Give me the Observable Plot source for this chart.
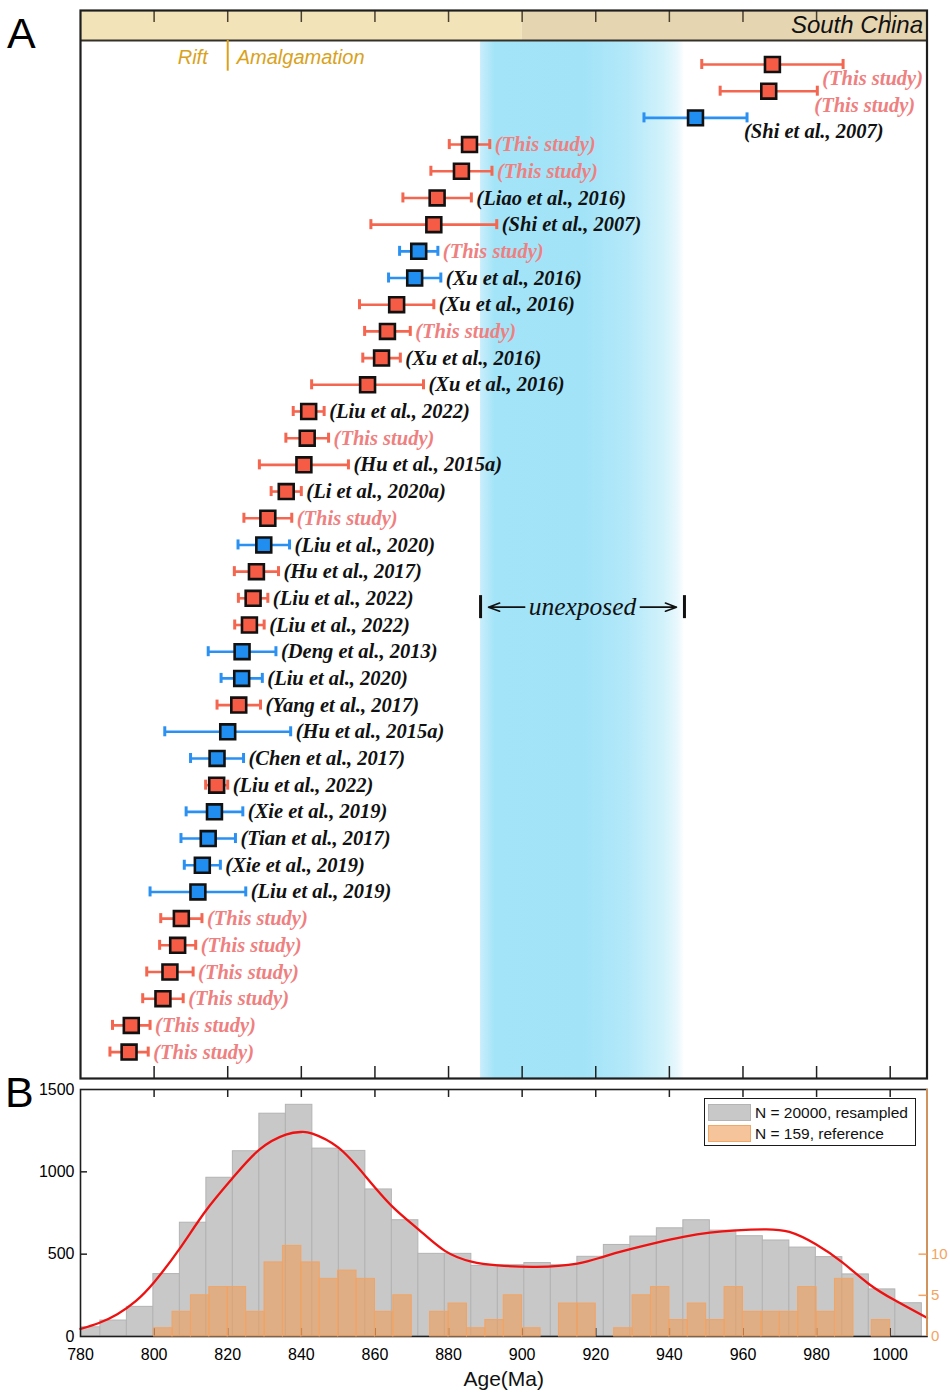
<!DOCTYPE html>
<html>
<head>
<meta charset="utf-8">
<script src="https://cdn.jsdelivr.net/npm/d3@7"></script>
<script src="https://cdn.jsdelivr.net/npm/@observablehq/plot@0.6"></script>
<style>
  body { margin: 0; background: #fff; }
  #wrap { position: relative; width: 950px; height: 1394px; overflow: hidden;
          font-family: "Liberation Sans", Arial, Helvetica, sans-serif; }
  #wrap svg { position: absolute; left: 0; }
  .tag { position: absolute; font-size: 43px; line-height: 43px; color: #000; }
  .legend { position: absolute; left: 704px; top: 1098px; width: 212px; height: 48px;
            box-sizing: border-box; border: 1.6px solid #1a1a1a; background: #fff;
            font-size: 15.5px; color: #111; padding-top: 3px; }
  .legend .item { display: flex; align-items: center; height: 21px; }
  .legend .sw { display: inline-block; width: 43px; height: 17px; margin: 0 4px 0 3px; box-sizing: border-box; }
  .legend .grey { background: #c8c8c8; border: 1px solid #b4b4b4; }
  .legend .orange { background: #f5c49b; border: 1px solid #f0a868; }
</style>
</head>
<body>
<div id="wrap">
  <div class="tag" style="left:7px; top:12px;">A</div>
  <div class="tag" style="left:5px; top:1071px;">B</div>
  <div class="legend">
    <div class="item"><span class="sw grey"></span>N = 20000, resampled</div>
    <div class="item"><span class="sw orange"></span>N = 159, reference</div>
  </div>
</div>
<script>
// ---------- Panel A: sample ages (Ma) with 2σ uncertainty, listed top to bottom ----------
const ages = [968.0, 967.0, 947.1, 885.7, 883.5, 876.9, 876.0, 871.9, 870.8, 865.9,
              863.4, 861.8, 858.0, 842.0, 841.6, 840.7, 835.9, 830.9, 829.8, 827.8,
              826.9, 825.9, 823.9, 823.8, 823.0, 820.0, 817.1, 817.0, 816.4, 814.7,
              813.1, 811.9, 807.4, 806.4, 804.3, 802.4, 793.8, 793.2];
const errors = [19.2, 13.2, 14.0, 5.5, 8.3, 9.3, 17.1, 5.2, 7.1, 10.1,
                6.2, 5.1, 15.2, 4.2, 5.8, 12.1, 4.1, 6.5, 7.0, 6.0,
                4.0, 4.0, 9.2, 5.6, 5.9, 17.1, 7.2, 3.0, 7.7, 7.4,
                4.9, 13.0, 5.6, 4.9, 6.3, 5.5, 5.1, 5.2];
const groups = ["red", "red", "blue", "red", "red", "red", "red", "blue", "blue", "red",
                "red", "red", "red", "red", "red", "red", "red", "red", "blue", "red",
                "red", "red", "blue", "blue", "red", "blue", "blue", "red", "blue", "blue",
                "blue", "blue", "red", "red", "red", "red", "red", "red"];
const refs = ["(This study)", "(This study)", "(Shi et al., 2007)", "(This study)", "(This study)",
              "(Liao et al., 2016)", "(Shi et al., 2007)", "(This study)", "(Xu et al., 2016)", "(Xu et al., 2016)",
              "(This study)", "(Xu et al., 2016)", "(Xu et al., 2016)", "(Liu et al., 2022)", "(This study)",
              "(Hu et al., 2015a)", "(Li et al., 2020a)", "(This study)", "(Liu et al., 2020)", "(Hu et al., 2017)",
              "(Liu et al., 2022)", "(Liu et al., 2022)", "(Deng et al., 2013)", "(Liu et al., 2020)", "(Yang et al., 2017)",
              "(Hu et al., 2015a)", "(Chen et al., 2017)", "(Liu et al., 2022)", "(Xie et al., 2019)", "(Tian et al., 2017)",
              "(Xie et al., 2019)", "(Liu et al., 2019)", "(This study)", "(This study)", "(This study)",
              "(This study)", "(This study)", "(This study)"];

// Tectonic stages along the top bar and the unexposed interval
const stageBreak = 820;                 // Rift | Amalgamation
const bandSegments = [[780, 900], [900, 1010]];
const unexposed = [888.7, 944.1];

// ---------- Panel B: histograms and density curve ----------
const ageTicks = [780, 800, 820, 840, 860, 880, 900, 920, 940, 960, 980, 1000];
const countTicks = [0, 500, 1000, 1500];
const refTicks = [0, 5, 10];

// resampled histogram (bin width 7.2 Ma starting at 778.2 Ma)
const greyStart = 778.2, greyWidth = 7.2;
const greyCounts = [56, 97, 180, 379, 691, 964, 1125, 1353, 1407, 1141,
                    1127, 893, 706, 502, 502, 429, 433, 446, 433, 484,
                    556, 607, 657, 706, 643, 609, 583, 540, 482, 377,
                    286, 202];
// reference ages histogram (bin width 5 Ma starting at 800 Ma)
const orangeStart = 800, orangeWidth = 5;
const orangeCounts = [1, 3, 5, 6, 6, 3, 9, 11, 9, 7,
                      8, 7, 3, 5, 0, 3, 4, 1, 2, 5,
                      1, 0, 4, 4, 0, 1, 5, 6, 2, 4,
                      2, 6, 3, 3, 3, 6, 3, 7, 0, 2];
// kernel density estimate, scaled to the resampled counts
const kdeAge = [780, 785, 790, 795, 800, 807, 814, 821.4, 828.6, 835.8, 840,
                843, 850, 857.4, 864.6, 871.8, 879, 886.2, 893.4, 904, 915,
                922, 929.4, 936.6, 943.8, 951, 958.2, 966, 972.6, 979.8, 987,
                994.2, 1001.4, 1010];
const kdeValue = [46, 82, 135, 215, 330, 535, 762, 964, 1135, 1226, 1242,
                  1232, 1148, 974, 792, 651, 520, 455, 432, 423, 443,
                  484, 530, 570, 605, 631, 645, 651, 635, 560, 450,
                  319, 218, 113];

// ---------- shared styling ----------
const RED = "#f65b45", BLUE = "#1f8ef0", RED_BAR = "#f4664f", BLUE_BAR = "#2a90f2";
const PINK = "#ef8080", GOLD = "#d9a21c", ORANGE = "#f4a460";
const serif = "'Liberation Serif', 'Times New Roman', serif";
const sans = "'Liberation Sans', Arial, Helvetica, sans-serif";
const xDomain = [780, 1010];
const W = 950, mL = 80, mR = 23.5;
const pxPerMa = (W - mL - mR) / (xDomain[1] - xDomain[0]);
const xPx = v => mL + (v - xDomain[0]) * pxPerMa;

const ctx = document.createElement("canvas").getContext("2d");
const textWidth = (s, font) => { ctx.font = font; return ctx.measureText(s).width; };
const labelSize = 20.5;
const labelFont = `italic bold ${labelSize}px ${serif}`;

// Panel A geometry: rows are one unit apart, 26.69 px each
const rowPx = 26.69;
const yTop = -2.023, yBottom = 37.99, bandBottom = -0.899;
const toRows = px => px / rowPx;

const rows = ages.map((age, i) => {
  const r = {i, age, lo: age - errors[i], hi: age + errors[i], ref: refs[i],
             fill: groups[i] === "red" ? RED : BLUE,
             bar: groups[i] === "red" ? RED_BAR : BLUE_BAR,
             ink: refs[i] === "(This study)" ? PINK : "#111"};
  if (age > 940) {
    // right side is crowded by the frame: put the label under the marker
    const start = xPx(r.hi) - 3;
    r.place = start + textWidth(r.ref, labelFont) > W - mR - 3 ? "belowEnd" : "below";
  } else r.place = "right";
  return r;
});

const labelStyle = {fontFamily: serif, fontStyle: "italic", fontWeight: "bold", fontSize: labelSize, fill: "ink"};
const uY = 20.33;
const uMid = (unexposed[0] + unexposed[1]) / 2;
const uFont = 25.5;
const uHalf = textWidth("unexposed", `italic ${uFont}px ${serif}`) / 2;

const plotA = Plot.plot({
  width: W, height: 1080,
  marginLeft: mL, marginRight: mR, marginTop: 10, marginBottom: 2,
  x: {domain: xDomain, axis: null},
  y: {domain: [yTop, yBottom], reverse: true, axis: null},
  color: {type: "identity"},
  style: {fontFamily: sans, overflow: "visible"},
  marks: [
    // stage bar across the top
    Plot.rect(bandSegments, {x1: d => d[0], x2: d => d[1], y1: yTop, y2: bandBottom,
      fill: (d, i) => i === 0 ? "#f3e3b9" : "#e6d5b1"}),
    // unexposed interval
    Plot.rect([unexposed], {x1: d => d[0], x2: d => d[1], y1: bandBottom, y2: yBottom,
      fill: "url(#unexposedFade)"}),
    Plot.ruleY([bandBottom], {stroke: "#34302a", strokeWidth: 2}),
    Plot.ruleX(ageTicks.slice(1), {y1: yTop, y2: yTop + toRows(12), stroke: "#4a4030", strokeWidth: 1.5}),
    Plot.ruleX(ageTicks.slice(1), {y1: yBottom, y2: yBottom - toRows(12), stroke: "#222", strokeWidth: 1.5}),
    Plot.text(["South China"], {x: xDomain[1], y: (yTop + bandBottom) / 2, text: d => d, textAnchor: "end",
      dx: -4, fontSize: 24, fontStyle: "italic", fill: "#111"}),
    Plot.ruleX([stageBreak], {y1: bandBottom, y2: toRows(70.7 - 64), stroke: GOLD, strokeWidth: 2}),
    Plot.text(["Rift"], {x: stageBreak, y: toRows(-7), text: d => d, textAnchor: "end", dx: -20,
      fontSize: 20, fontStyle: "italic", fill: GOLD}),
    Plot.text(["Amalgamation"], {x: stageBreak, y: toRows(-7), text: d => d, textAnchor: "start", dx: 9,
      fontSize: 20, fontStyle: "italic", fill: GOLD}),
    // unexposed annotation
    Plot.ruleX(unexposed, {y1: uY - toRows(11.5), y2: uY + toRows(11.5), stroke: "#111", strokeWidth: 3}),
    Plot.arrow(unexposed, {x1: uMid, x2: d => d, y1: uY, y2: uY, insetStart: uHalf + 4, insetEnd: 8,
      headLength: 11, headAngle: 40, stroke: "#111", strokeWidth: 1.6}),
    Plot.text(["unexposed"], {x: uMid, y: uY, text: d => d, fontFamily: serif, fontStyle: "italic",
      fontSize: uFont, fill: "#111"}),
    // error bars with caps
    Plot.ruleY(rows, {y: "i", x1: "lo", x2: "hi", stroke: "bar", strokeWidth: 2.6}),
    Plot.ruleX(rows, {x: "lo", y1: d => d.i - toRows(5), y2: d => d.i + toRows(5), stroke: "bar", strokeWidth: 3}),
    Plot.ruleX(rows, {x: "hi", y1: d => d.i - toRows(5), y2: d => d.i + toRows(5), stroke: "bar", strokeWidth: 3}),
    // age markers
    Plot.dot(rows, {x: "age", y: "i", symbol: "square", r: 8.4, fill: "fill", stroke: "#111", strokeWidth: 2.6}),
    // reference labels
    Plot.text(rows, {filter: d => d.place === "right", x: "hi", y: "i", text: "ref", textAnchor: "start", dx: 5, ...labelStyle}),
    Plot.text(rows, {filter: d => d.place === "below", x: "hi", y: "i", text: "ref", textAnchor: "start", dx: -3, dy: 14, ...labelStyle}),
    Plot.text(rows, {filter: d => d.place === "belowEnd", x: xDomain[1], y: "i", text: "ref", textAnchor: "end", dx: -4, dy: 14, ...labelStyle}),
    Plot.frame({stroke: "#1e1e1e", strokeWidth: 2.2})
  ]
});

// gradient used by the unexposed interval
const defs = d3.select(plotA).insert("defs", ":first-child");
const grad = defs.append("linearGradient").attr("id", "unexposedFade")
  .attr("x1", 0).attr("x2", 1).attr("y1", 0).attr("y2", 0);
[[0, "#c9eefb"], [0.07, "#a4e4f8"], [0.5, "#a2e3f8"], [0.72, "#b3e8f9"],
 [0.9, "#d2f2fb"], [0.97, "#eaf8fd"], [1, "#ffffff"]]
  .forEach(([o, c]) => grad.append("stop").attr("offset", o).attr("stop-color", c));
plotA.style.top = "0px";

// ---------- Panel B ----------
const greyRows = greyCounts.map((c, k) => ({x1: greyStart + k * greyWidth, x2: greyStart + (k + 1) * greyWidth, c}));
const orangeRows = orangeCounts.map((c, k) => ({x1: orangeStart + k * orangeWidth, x2: orangeStart + (k + 1) * orangeWidth, c}))
  .filter(d => d.c > 0);
const kde = kdeAge.map((a, k) => ({a, v: kdeValue[k]}));

const hB = 314, mTopB = 9, mBotB = 58;
const unitsPerPxB = 1500 / (hB - mTopB - mBotB);

const plotB = Plot.plot({
  width: W, height: hB,
  marginLeft: mL, marginRight: mR, marginTop: mTopB, marginBottom: mBotB,
  x: {domain: xDomain},
  y: {domain: [0, 1500], label: null},
  style: {fontFamily: sans, fontSize: "16px", overflow: "visible"},
  marks: [
    Plot.rectY(greyRows, {x1: "x1", x2: "x2", y: "c", fill: "#c8c8c8", stroke: "#b3b3b3", strokeWidth: 1, clip: true}),
    Plot.line(kde, {x: "a", y: "v", curve: "natural", stroke: "#ee1111", strokeWidth: 2.3}),
    Plot.ruleX(ageTicks.slice(1), {y1: 0, y2: 8 * unitsPerPxB, stroke: "#222", strokeWidth: 1.5}),
    Plot.ruleX(ageTicks.slice(1), {y1: 1500, y2: 1500 - 8 * unitsPerPxB, stroke: "#222", strokeWidth: 1.5}),
    Plot.ruleY(countTicks.slice(1, -1), {x1: xDomain[0], x2: xDomain[0] + 7 / pxPerMa, stroke: "#222", strokeWidth: 1.5}),
    Plot.axisX({ticks: ageTicks, tickSize: 0, tickPadding: 12, tickFormat: d => String(d), label: null, fontSize: 16}),
    Plot.axisY({ticks: countTicks, tickSize: 0, tickPadding: 6, tickFormat: d => String(d), label: null, fontSize: 16}),
    Plot.text(["Age(Ma)"], {frameAnchor: "bottom", text: d => d, dy: 49, fontSize: 21, fill: "#111"}),
    Plot.frame({stroke: "#1e1e1e", strokeWidth: 1.6})
  ]
});
plotB.style.top = "1080px";

// reference-age counts on their own right-hand axis
const plotB2 = Plot.plot({
  width: W, height: hB,
  marginLeft: mL, marginRight: mR, marginTop: mTopB, marginBottom: mBotB,
  x: {domain: xDomain, axis: null},
  y: {domain: [0, 30], label: null},
  style: {fontFamily: sans, fontSize: "15px", overflow: "visible", background: "transparent"},
  marks: [
    Plot.rectY(orangeRows, {x1: "x1", x2: "x2", y: "c", fill: "#ee9d58", fillOpacity: 0.6, stroke: "#f2a465", strokeWidth: 1}),
    Plot.ruleX([xDomain[1]], {stroke: ORANGE, strokeWidth: 1.6}),
    Plot.ruleY(refTicks.slice(1), {x1: xDomain[1], x2: xDomain[1] - 8 / pxPerMa, stroke: ORANGE, strokeWidth: 1.5}),
    Plot.axisY({anchor: "right", ticks: refTicks, tickSize: 0, tickPadding: 4, tickFormat: d => String(d),
      label: null, color: ORANGE, fontSize: 15})
  ]
});
plotB2.style.top = "1080px";

const wrap = document.getElementById("wrap");
const legend = wrap.querySelector(".legend");
wrap.insertBefore(plotA, legend);
wrap.insertBefore(plotB, legend);
wrap.insertBefore(plotB2, legend);
</script>
</body>
</html>
